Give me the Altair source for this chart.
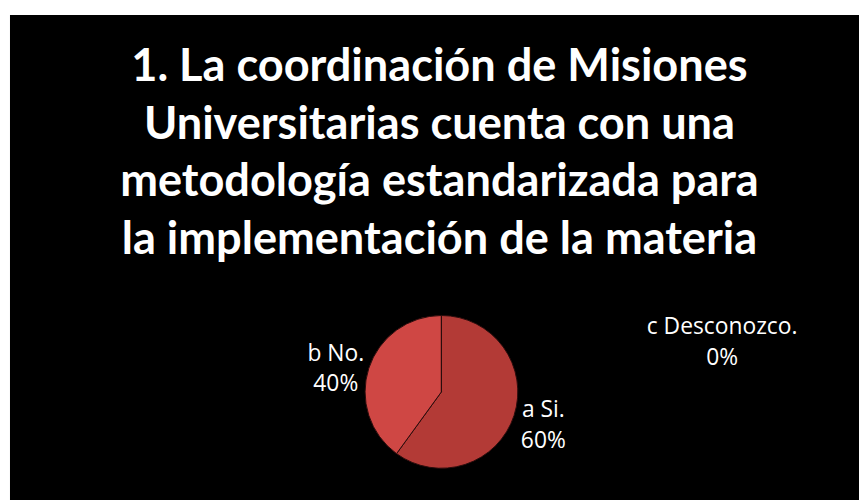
import altair as alt
import pandas as pd

categories = ["a Si.", "b No.", "c Desconozco."]
values = [60, 40, 0]
pct_labels = ["60%", "40%", "0%"]
order = [0, 1, 2]
colors = ["#b33a36", "#cf4744", "#8aa04a"]
title_lines = [
    "1. La coordinación de Misiones",
    "Universitarias cuenta con una",
    "metodología estandarizada para",
    "la implementación de la materia",
]

df = pd.DataFrame({"cat": categories, "value": values, "pct": pct_labels, "order": order})
df["label"] = df["cat"] + "\n" + df["pct"]

PL, PT = 18, 276
W, H = 838, 218
base = alt.Chart(df)

bg = alt.Chart(alt.Data(values=[{"a": 1}])).mark_rect(color="black").encode(
    x=alt.value(10 - 8 - PL), x2=alt.value(866 - 8 - PL),
    y=alt.value(13 - 8 - PT), y2=alt.value(H),
)

title = alt.Chart(alt.Data(values=[{"t": title_lines}])).mark_text(
    font="Lato", fontSize=45.5, fontWeight="bold", color="white",
    lineHeight=58, align="center", baseline="alphabetic",
).encode(
    x=alt.value(443 - 8 - PL), y=alt.value(80 - 8 - PT), text="t:N"
)

pie = base.mark_arc(outerRadius=77, stroke="#2a0c0c", strokeWidth=1).encode(
    theta=alt.Theta("value:Q", stack=True, scale=alt.Scale(domain=[0, 100])),
    order=alt.Order("order:Q"),
    color=alt.Color("cat:N", scale=alt.Scale(domain=categories, range=colors), legend=None),
)

label_base = base.transform_window(
    cum="sum(value)", sort=[alt.SortField("order")], frame=[None, 0]
).transform_calculate(mid="datum.cum - datum.value / 2")

label_specs = [
    ("a Si.", 108, 0, -15),
    ("b No.", 112, 0, -4),
    ("c Desconozco.", 49, 283, -16),
]

layers = [bg, title, pie]
for cat, r, dx, dy in label_specs:
    layers.append(
        label_base.transform_filter(alt.datum.cat == cat)
        .mark_text(
            radius=r, dx=dx, dy=dy, lineBreak="\n", font="Open Sans", fontSize=23,
            color="white", align="center", baseline="middle", lineHeight=31,
        )
        .encode(
            theta=alt.Theta("mid:Q", stack=None, scale=alt.Scale(domain=[0, 100])),
            text="label:N",
        )
    )

chart = alt.layer(*layers).properties(
    width=W,
    height=H,
    background="white",
    padding={"left": PL, "top": PT, "right": 2, "bottom": 0},
    autosize=alt.AutoSizeParams(type="none"),
).configure_view(stroke=None)

chart.save("out.html", embed_options={"renderer": "svg", "actions": False})
